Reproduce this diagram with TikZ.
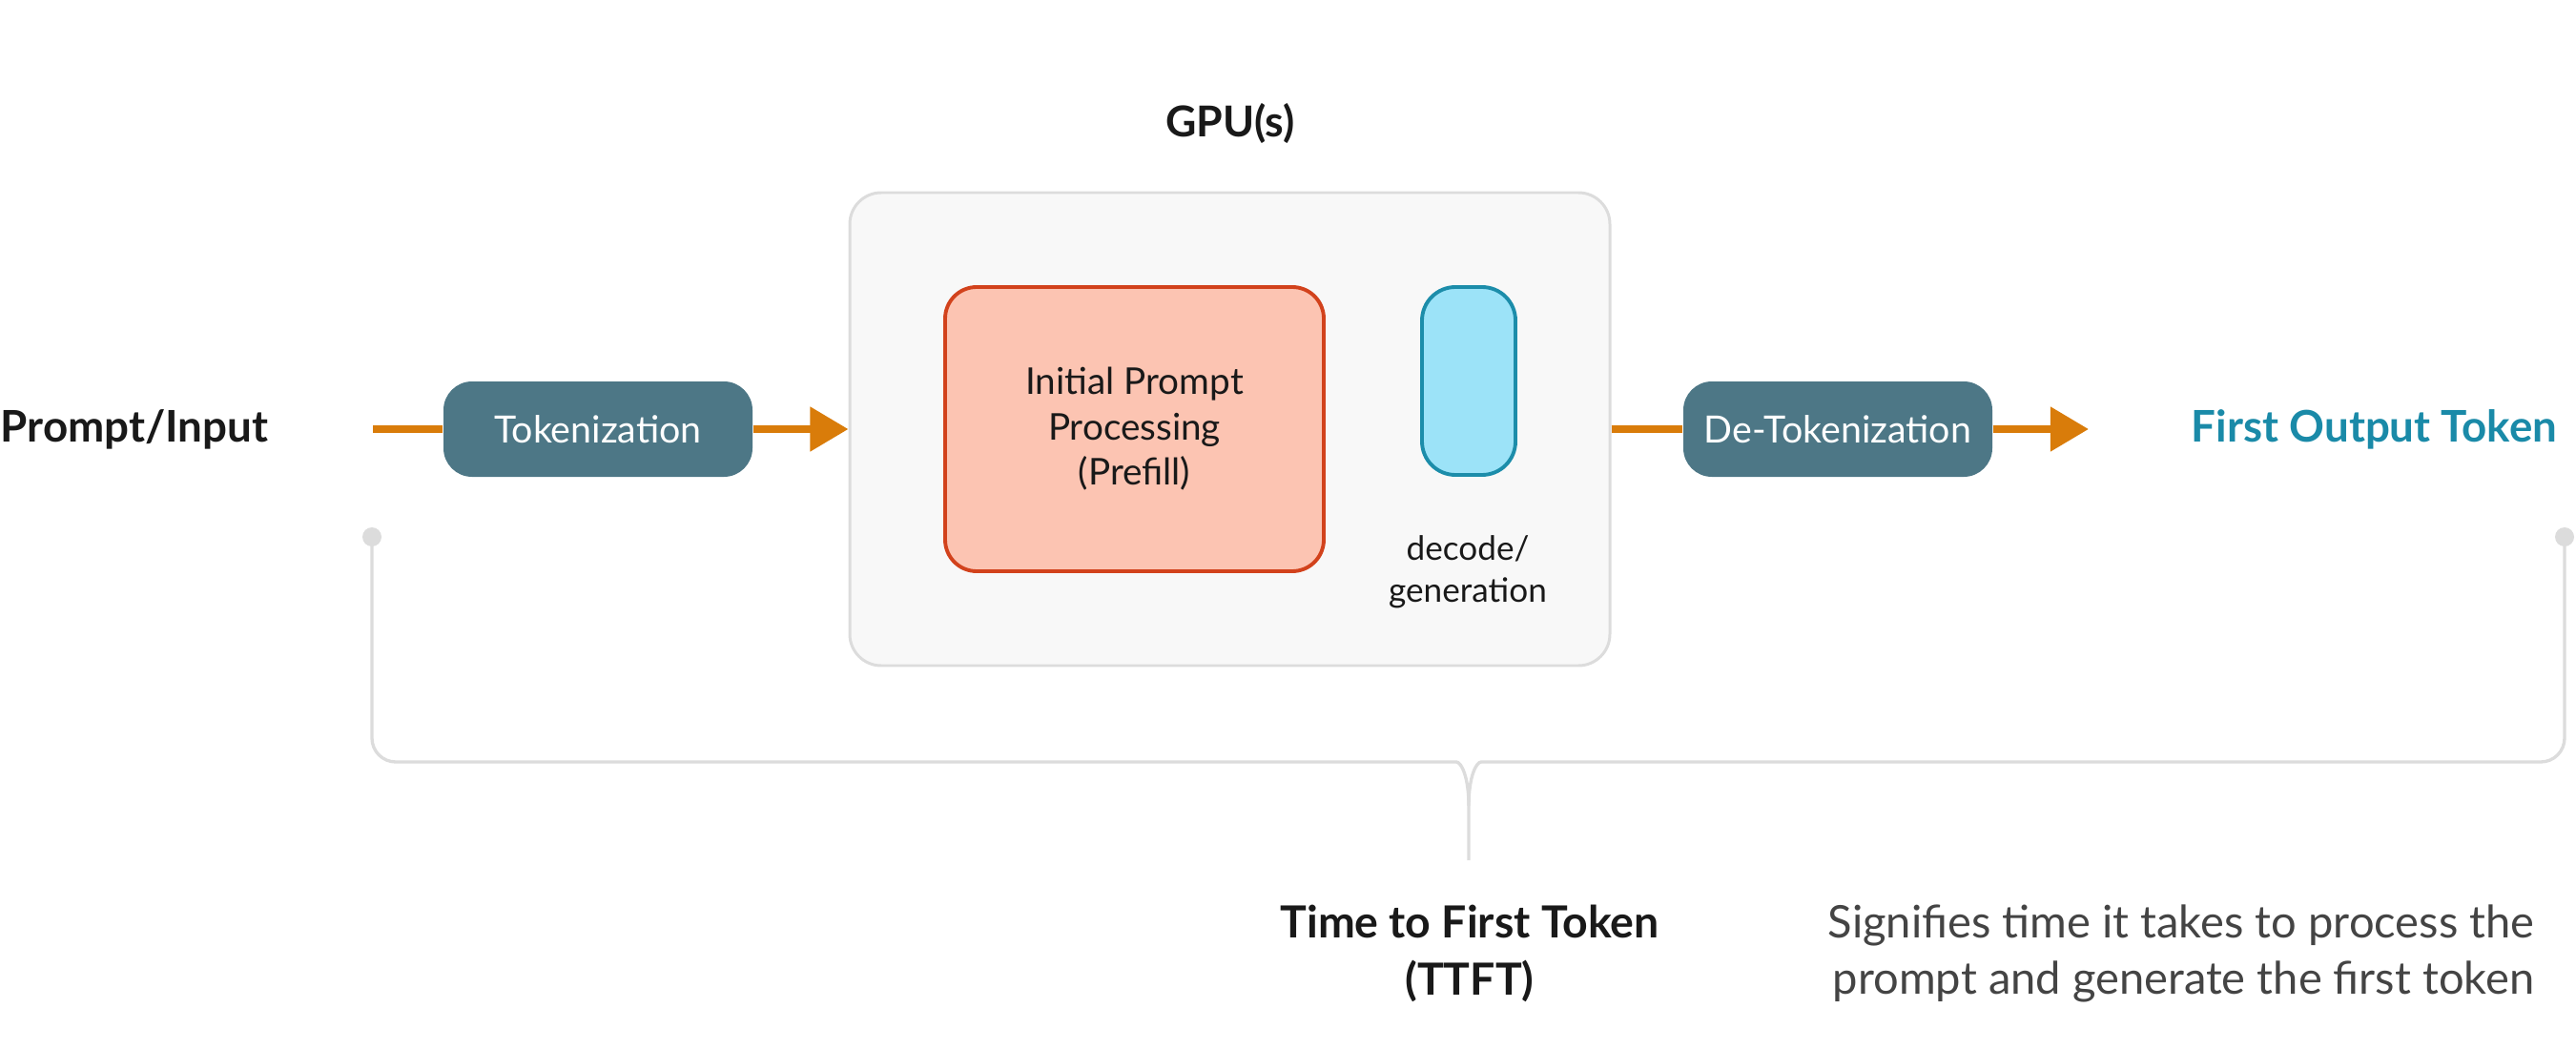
\documentclass[tikz,border=0pt]{standalone}
\usepackage{fontspec}
\setmainfont{Lato}
\usetikzlibrary{arrows.meta}
\tikzset{>={Triangle[length=11.4pt,width=12.8pt]}}
\definecolor{floworange}{HTML}{D97C0A}
\definecolor{tokteal}{HTML}{4D7786}
\definecolor{gpufill}{HTML}{F8F8F8}
\definecolor{gpuedge}{HTML}{DCDCDC}
\definecolor{prefillfill}{HTML}{FCC4B2}
\definecolor{prefilledge}{HTML}{D2421C}
\definecolor{decodefill}{HTML}{9CE3F8}
\definecolor{decodeedge}{HTML}{1C8DAA}
\definecolor{outblue}{HTML}{1A8AA8}
\definecolor{descgray}{HTML}{444444}
\colorlet{inkblack}{black!90}
\tikzstyle{flow}=[line width=2.3pt,floworange]
\tikzstyle{tokbox}=[rounded corners=0.3cm,fill=tokteal,text=white,minimum width=3.24cm,minimum height=1cm,inner sep=0,font=\fontsize{11.2}{13}\selectfont]
\tikzstyle{gpubox}=[rounded corners=0.33cm,fill=gpufill,draw=gpuedge,line width=0.85pt,minimum width=7.97cm,minimum height=4.96cm,inner sep=0]
\tikzstyle{prefillbox}=[rounded corners=0.33cm,fill=prefillfill,draw=prefilledge,line width=1.1pt,minimum width=3.97cm,minimum height=2.98cm,inner sep=0,align=center,text=inkblack,font=\fontsize{11}{13.5}\selectfont]
\tikzstyle{decodebox}=[rounded corners=0.35cm,fill=decodefill,draw=decodeedge,line width=1.1pt,minimum width=0.98cm,minimum height=1.97cm,inner sep=0]
\tikzstyle{boldlabel}=[inner sep=0,text=inkblack,font=\fontsize{13}{15}\selectfont\bfseries]
\tikzstyle{smalllabel}=[inner sep=0,align=center,text=inkblack,font=\fontsize{10}{12.5}\selectfont]
\tikzstyle{desclabel}=[inner sep=0,font=\fontsize{13.4}{17}\selectfont]
\tikzstyle{bracket}=[line width=0.95pt,gpuedge]
\tikzstyle{pindot}=[fill=gpuedge]
\begin{document}
\begin{tikzpicture}
  \useasboundingbox (0,0) rectangle (27.01,-11);

  % GPU
  \node[gpubox] (gpu) at (12.895,-4.50) {};
  \node[boldlabel,font=\fontsize{12.7}{15}\selectfont\bfseries] (gpulabel) at (12.90,-1.30) {GPU(s)};
  \node[prefillbox] (prefill) at (11.895,-4.50) {Initial Prompt\\Processing\\(Prefill)};
  \node[decodebox] (decode) at (15.40,-3.995) {};
  \node[smalllabel] (decodelabel) at (15.39,-6.00) {decode/\\generation};

  % TOKENS
  \node[tokbox] (tok) at (6.27,-4.50) {Tokenization};
  \node[tokbox] (detok) at (19.27,-4.50) {De-Tokenization};
  \node[boldlabel,anchor=west] (prompt) at (0,-4.50) {Prompt/Input};
  \node[boldlabel,anchor=east,text=outblue] (first) at (26.82,-4.50) {First Output Token};
  \coordinate (in) at (3.91,-4.50);
  \coordinate (out) at (21.90,-4.50);
  \draw[flow] (in) -- (tok);
  \draw[flow,->] (tok) -- (gpu);
  \draw[flow] (gpu) -- (detok);
  \draw[flow,->] (detok) -- (out);

  % TTFT
  \coordinate (lpin) at (3.90,-5.63);
  \coordinate (rpin) at (26.89,-5.63);
  \coordinate (stem) at (15.40,-9.02);
  \draw[bracket] (lpin) [rounded corners=0.25cm] |- (15.02,-7.99) [sharp corners]
    .. controls (15.32,-7.99) and (15.40,-8.14) .. (15.40,-8.45) -- (stem);
  \draw[bracket] (rpin) [rounded corners=0.25cm] |- (15.78,-7.99) [sharp corners]
    .. controls (15.48,-7.99) and (15.40,-8.14) .. (15.40,-8.45);
  \fill[pindot] (lpin) circle (0.10);
  \fill[pindot] (rpin) circle (0.10);
  \node[desclabel,align=center,text=inkblack,font=\fontsize{13.2}{17}\selectfont\bfseries] (ttft) at (15.41,-10.00) {Time to First Token\\(TTFT)};
  \node[desclabel,anchor=east,align=right,text=descgray] (desc) at (26.58,-10.00) {Signifies time it takes to process the\\prompt and generate the first token};
\end{tikzpicture}
\end{document}
